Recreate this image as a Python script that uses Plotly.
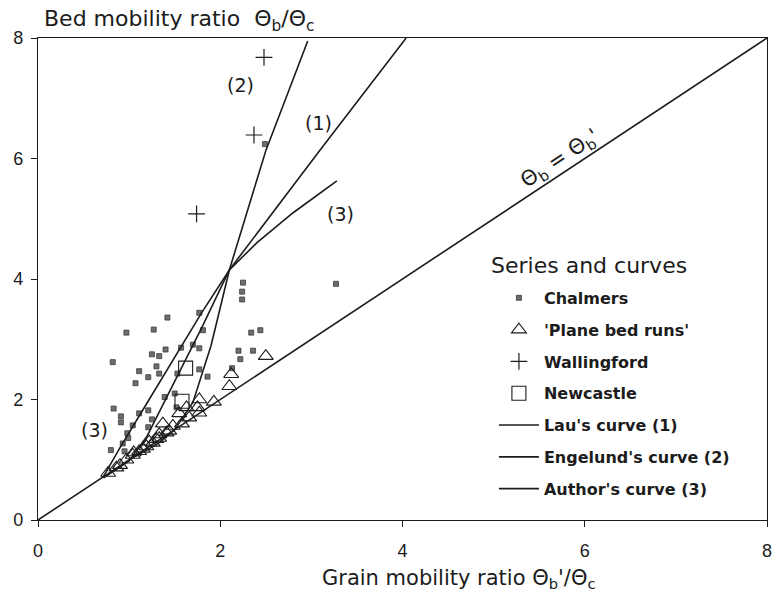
import plotly.graph_objects as go

# ---- Chalmers flume runs (bed mobility vs grain mobility) ----
chalmers_x = [2.25, 2.24, 2.24, 3.27, 1.42, 1.77, 0.97, 1.27, 1.81, 2.34, 2.44,
              1.40, 1.25, 1.33, 1.57, 1.70, 1.77, 2.20, 2.36, 2.22, 1.30, 1.11,
              1.21, 1.33, 1.53, 1.77, 1.86, 2.13, 1.07, 1.50, 1.39, 1.52, 1.11,
              1.21, 1.25, 1.21, 0.91, 0.91, 1.04, 0.98, 0.93, 0.82, 0.83, 0.80,
              0.95, 2.49, 0.99]
chalmers_y = [3.94, 3.79, 3.66, 3.92, 3.36, 3.44, 3.11, 3.16, 3.15, 3.11, 3.15,
              2.83, 2.75, 2.72, 2.86, 2.91, 2.85, 2.81, 2.81, 2.67, 2.55, 2.47,
              2.37, 2.43, 2.43, 2.50, 2.38, 2.52, 2.27, 2.10, 2.04, 1.87, 1.77,
              1.82, 1.67, 1.54, 1.72, 1.62, 1.57, 1.44, 1.27, 2.62, 1.85, 1.16,
              1.14, 6.24, 1.36]

# ---- "Plane bed runs" ----
plane_x = [2.50, 2.12, 2.10, 1.93, 1.77, 1.75, 1.63, 1.55, 1.77, 1.66, 1.37,
           1.48, 1.58, 1.33, 1.41, 1.30, 1.44, 1.26, 1.33, 1.19, 1.11, 1.04,
           0.97, 1.15, 0.90, 0.86, 0.77, 1.22, 1.05]
plane_y = [2.72, 2.42, 2.22, 1.96, 2.00, 1.87, 1.87, 1.77, 1.78, 1.70, 1.60,
           1.56, 1.60, 1.42, 1.45, 1.34, 1.48, 1.28, 1.36, 1.22, 1.14, 1.08,
           1.00, 1.18, 0.91, 0.87, 0.78, 1.30, 1.12]

# ---- Wallingford ----
wall_x = [2.48, 2.37, 1.74]
wall_y = [7.68, 6.39, 5.08]

# ---- Newcastle ----
newc_x = [1.62, 1.58]
newc_y = [2.52, 1.97]

# ---- Transport curves ----
lau_x = [0.72, 1.00, 1.20, 1.50, 1.80, 2.10, 2.60, 3.10, 4.04]
lau_y = [0.70, 0.98, 1.40, 2.30, 3.20, 4.15, 5.15, 6.15, 8.00]

engelund_x = [1.00, 1.30, 1.50, 1.70, 1.90, 2.10, 2.50, 2.96]
engelund_y = [1.00, 1.25, 1.50, 1.95, 2.90, 4.15, 6.13, 7.95]

author_x = [0.71, 0.90, 1.20, 1.50, 1.80, 2.10, 2.40, 2.80, 3.28]
author_y = [0.70, 1.20, 1.95, 2.70, 3.45, 4.15, 4.60, 5.10, 5.63]

# line of equality theta_b = theta_b'
equal_x = [0, 8]
equal_y = [0, 8]

# ---- tick labels ----
tick_vals = [0, 2, 4, 6, 8]
tick_text = ["0", "2", "4", "6", "8"]

INK = "#1c1c1c"
FONT = "DejaVu Sans"

fig = go.Figure()

fig.add_trace(go.Scatter(x=equal_x, y=equal_y, mode="lines",
                         line=dict(color=INK, width=1.6), showlegend=False,
                         hoverinfo="skip"))

fig.add_trace(go.Scatter(x=chalmers_x, y=chalmers_y, mode="markers", name="Chalmers",
                         legendgroup="a",
                         marker=dict(symbol="square", size=5, color="#6e6e6e",
                                     line=dict(color="#3a3a3a", width=0.8))))
fig.add_trace(go.Scatter(x=plane_x, y=plane_y, mode="markers", name="'Plane bed runs'",
                         legendgroup="b",
                         marker=dict(symbol="triangle-up-open", size=13, color=INK,
                                     line=dict(width=1.1))))
fig.add_trace(go.Scatter(x=wall_x, y=wall_y, mode="markers", name="Wallingford",
                         legendgroup="c",
                         marker=dict(symbol="cross-thin-open", size=12, color=INK,
                                     line=dict(width=1.2, color=INK))))
fig.add_trace(go.Scatter(x=newc_x, y=newc_y, mode="markers", name="Newcastle",
                         legendgroup="d",
                         marker=dict(symbol="square-open", size=14, color=INK,
                                     line=dict(width=1.1))))

fig.add_trace(go.Scatter(x=lau_x, y=lau_y, mode="lines", name="Lau's curve (1)",
                         legendgroup="e", line=dict(color=INK, width=1.6)))
fig.add_trace(go.Scatter(x=engelund_x, y=engelund_y, mode="lines",
                         name="Engelund's curve (2)", legendgroup="f",
                         line=dict(color=INK, width=1.6)))
fig.add_trace(go.Scatter(x=author_x, y=author_y, mode="lines",
                         name="Author's curve (3)", legendgroup="g",
                         line=dict(color=INK, width=1.6)))

axis_common = dict(range=[0, 8], showgrid=False, zeroline=False, showline=True,
                   linecolor=INK, linewidth=1.3, mirror=True, ticks="outside",
                   ticklen=6, tickwidth=1.2, tickcolor=INK,
                   tickvals=tick_vals, ticktext=tick_text,
                   tickfont=dict(family="Liberation Sans", size=18, color=INK))

fig.update_layout(
    width=780, height=603,
    margin=dict(l=38, r=8, t=38, b=83),
    paper_bgcolor="white", plot_bgcolor="white",
    xaxis=dict(**axis_common, ticklabelstandoff=8),
    yaxis=dict(**axis_common, ticklabelstandoff=4),
    xaxis2=dict(range=[0, 8], overlaying="x", anchor="y", side="bottom",
                showgrid=False, zeroline=False, showline=False, ticks="inside",
                ticklen=6, tickwidth=1.2, tickcolor=INK, tickvals=[2, 4, 6],
                showticklabels=False),
    yaxis2=dict(range=[0, 8], overlaying="y", anchor="x", side="left",
                showgrid=False, zeroline=False, showline=False, ticks="inside",
                ticklen=6, tickwidth=1.2, tickcolor=INK, tickvals=[2, 4, 6],
                showticklabels=False),
    showlegend=True,
    legend=dict(x=0.6254, y=0.496, xanchor="left", yanchor="top",
                bgcolor="rgba(0,0,0,0)", tracegroupgap=8, itemwidth=40,
                font=dict(family=FONT, size=16, color=INK, weight="bold")),
)

annots = [
    dict(text="Bed mobility ratio  Θ<sub>b</sub>/Θ<sub>c</sub>", xref="paper", yref="paper",
         x=0.006, y=1.0, xanchor="left", yanchor="bottom", yshift=1,
         font=dict(family=FONT, size=22, color=INK)),
    dict(text="Grain mobility ratio Θ<sub>b</sub>'/Θ<sub>c</sub>", xref="paper", yref="paper",
         x=0.578, y=0, xanchor="center", yanchor="top", yshift=-44,
         font=dict(family=FONT, size=21, color=INK)),
    dict(text="Series and curves", xref="paper", yref="paper",
         x=(492 - 38) / 734, y=(520 - 265) / 482, xanchor="left", yanchor="middle",
         font=dict(family=FONT, size=22, color=INK)),
    dict(text="(2)", x=2.22, y=7.22, xref="x", yref="y",
         font=dict(family=FONT, size=19, color=INK)),
    dict(text="(1)", x=3.08, y=6.59, xref="x", yref="y",
         font=dict(family=FONT, size=19, color=INK)),
    dict(text="(3)", x=3.32, y=5.08, xref="x", yref="y",
         font=dict(family=FONT, size=19, color=INK)),
    dict(text="(3)", x=0.62, y=1.49, xref="x", yref="y",
         font=dict(family=FONT, size=19, color=INK)),
    dict(text="Θ<sub>b</sub> = Θ<sub>b</sub>'", x=5.74, y=5.74, xref="x", yref="y",
         textangle=-33.4, xshift=-1, yshift=15,
         font=dict(family=FONT, size=21, color=INK)),
]
for a in annots:
    a["showarrow"] = False
    fig.add_annotation(**a)

fig.write_html("out.html")
